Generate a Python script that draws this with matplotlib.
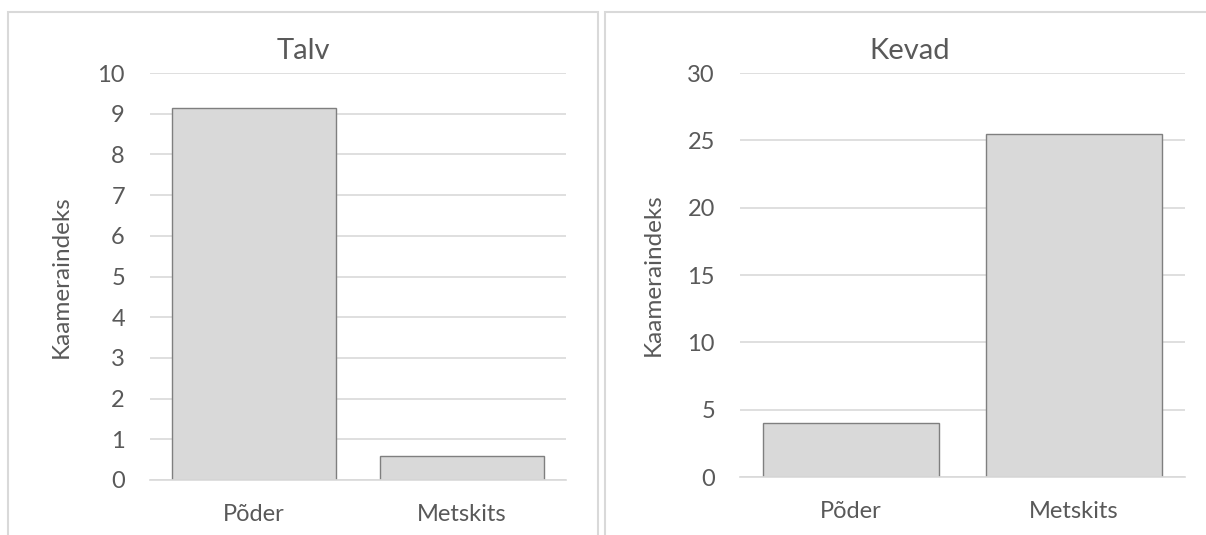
import matplotlib
matplotlib.use("Agg")
import matplotlib.pyplot as plt
from matplotlib.patches import Rectangle

categories = ["Põder", "Metskits"]
talv_values = [9.13, 0.58]
kevad_values = [4.0, 25.45]
titles = ["Talv", "Kevad"]
ylabel = "Kaameraindeks"
talv_ticks = list(range(0, 11, 1))
kevad_ticks = list(range(0, 31, 5))

plt.rcParams['font.family'] = ['Lato', 'DejaVu Sans']
W, H = 1206, 535
fig = plt.figure(figsize=(W / 100, H / 100), dpi=100)

text_color = "#595959"
grid_color = "#d9d9d9"
bar_face = "#d9d9d9"
bar_edge = "#7f7f7f"

# panel frames
for (x0, x1) in [(8, 598), (605, 1230)]:
    fig.patches.append(Rectangle((x0 / W, -0.1), (x1 - x0) / W, 1.1 - 12 / H,
                                 transform=fig.transFigure, fill=False,
                                 edgecolor=grid_color, linewidth=1.5))

def make_panel(rect, values, ticks, title, title_x, ylabel_x):
    ax = fig.add_axes(rect)
    x = list(range(len(categories)))
    ax.bar(x, values, width=0.79, color=bar_face, edgecolor=bar_edge, linewidth=1.0, zorder=3)
    ax.set_xlim(-0.5, len(categories) - 0.5)
    ax.set_ylim(ticks[0], ticks[-1])
    ax.set_yticks(ticks)
    ax.set_xticks(x)
    ax.set_xticklabels(categories)
    ax.grid(axis='y', color=grid_color, linewidth=1.2, zorder=0)
    for s in ['top', 'right', 'left']:
        ax.spines[s].set_visible(False)
    ax.spines['bottom'].set_color(grid_color)
    ax.spines['bottom'].set_linewidth(1.2)
    ax.spines['bottom'].set_zorder(4)
    ax.tick_params(axis='both', length=0, labelsize=17, colors=text_color)
    ax.tick_params(axis='y', pad=18)
    ax.tick_params(axis='x', pad=17)
    ax.set_ylabel(ylabel, fontsize=17.5, color=text_color)
    ax.yaxis.set_label_coords((ylabel_x - rect[0] * W) / (rect[2] * W), 0.5)
    fig.text(title_x / W, 1 - 51 / H, title, fontsize=21, color=text_color,
             ha='center', va='center')
    return ax

make_panel([150 / W, 1 - 480 / H, 416 / W, 407 / H], talv_values, talv_ticks,
           titles[0], 303, 72)
make_panel([740 / W, 1 - 477 / H, 445 / W, 404 / H], kevad_values, kevad_ticks,
           titles[1], 910, 664)

fig.savefig("out.png", dpi=100)
